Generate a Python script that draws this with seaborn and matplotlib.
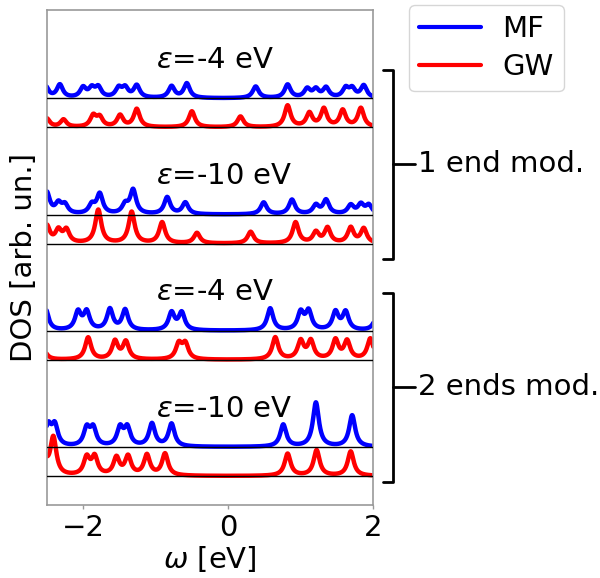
import numpy as np
import matplotlib
matplotlib.use("Agg")
import matplotlib.pyplot as plt
import seaborn as sns

# peak positions (eV) and peak heights (arb. units) read off the reference
# panels from top to bottom: 1 end eps=-4, 1 end eps=-10, 2 ends eps=-4, 2 ends eps=-10
mf_pos_1e4 = [-2.52, -2.32, -2.00, -1.88, -1.79, -1.51, -1.42, -1.26, -0.78, -0.57,
              0.38, 0.82, 1.09, 1.21, 1.35, 1.62, 1.71, 1.87]
mf_h_1e4 = [0.42, 0.45, 0.34, 0.3, 0.34, 0.32, 0.32, 0.42, 0.4, 0.5,
            0.4, 0.46, 0.3, 0.28, 0.34, 0.32, 0.3, 0.42]
gw_pos_1e4 = [-2.50, -2.27, -1.86, -1.77, -1.49, -1.26, -0.50, 0.17, 0.82, 1.12, 1.32, 1.58, 1.83]
gw_h_1e4 = [0.3, 0.26, 0.38, 0.32, 0.4, 0.62, 0.55, 0.37, 0.74, 0.47, 0.62, 0.57, 0.65]

mf_pos_1e10 = [-2.50, -2.34, -2.25, -1.88, -1.77, -1.42, -1.31, -0.84, -0.59, 0.49,
               0.88, 1.21, 1.35, 1.69, 1.83, 1.94]
mf_h_1e10 = [0.75, 0.34, 0.3, 0.3, 0.68, 0.3, 0.82, 0.58, 0.4, 0.41,
             0.5, 0.3, 0.48, 0.3, 0.32, 0.3]
gw_pos_1e10 = [-2.50, -2.34, -2.23, -1.79, -1.33, -0.91, -0.43, 0.31, 0.93, 1.21, 1.37, 1.69, 1.87]
gw_h_1e10 = [0.6, 0.42, 0.44, 1.15, 1.08, 0.72, 0.36, 0.4, 0.72, 0.37, 0.52, 0.53, 0.5]

mf_pos_2e4 = [-2.52, -2.07, -1.95, -1.63, -1.42, -0.78, -0.64, 0.58, 1.00, 1.11, 1.48, 1.62, 2.05]
mf_h_2e4 = [0.78, 0.62, 0.62, 0.72, 0.7, 0.6, 0.6, 0.76, 0.6, 0.64, 0.62, 0.62, 0.5]
gw_pos_2e4 = [-2.55, -1.93, -1.56, -1.41, -0.68, -0.59, 0.65, 1.00, 1.14, 1.48, 1.64, 1.96]
gw_h_2e4 = [0.4, 0.76, 0.62, 0.6, 0.52, 0.52, 0.76, 0.62, 0.62, 0.66, 0.62, 0.72]

mf_pos_2e10 = [-2.48, -2.39, -1.95, -1.86, -1.49, -1.39, -1.05, -0.78, 0.76, 1.21, 1.71]
mf_h_2e10 = [0.7, 0.7, 0.6, 0.6, 0.62, 0.62, 0.78, 0.78, 0.76, 1.52, 1.08]
gw_pos_2e10 = [-2.52, -2.41, -1.95, -1.84, -1.54, -1.38, -1.12, -0.87, 0.82, 1.22, 1.69]
gw_h_2e10 = [0.42, 1.3, 0.6, 0.62, 0.6, 0.64, 0.7, 0.75, 0.76, 0.88, 0.84]

eps_labels = [r"$\varepsilon$=-4 eV", r"$\varepsilon$=-10 eV", r"$\varepsilon$=-4 eV", r"$\varepsilon$=-10 eV"]
offsets = [12, 8, 4, 0]   # GW baseline of each panel, MF sits one unit higher
broadening = 0.05         # Lorentzian half width (eV)

panels = [
    (mf_pos_1e4, mf_h_1e4, gw_pos_1e4, gw_h_1e4),
    (mf_pos_1e10, mf_h_1e10, gw_pos_1e10, gw_h_1e10),
    (mf_pos_2e4, mf_h_2e4, gw_pos_2e4, gw_h_2e4),
    (mf_pos_2e10, mf_h_2e10, gw_pos_2e10, gw_h_2e10),
]


def dos(w, pos, h):
    out = np.zeros_like(w)
    for p, a in zip(pos, h):
        out += a / (1 + ((w - p) / broadening) ** 2)
    return out


omega = np.linspace(-2.6, 2.1, 3000)

sns.set_style("white")
plt.rcParams["font.family"] = ["DejaVu Sans"]
plt.rcParams["text.color"] = "black"
plt.rcParams["axes.labelcolor"] = "black"
fs = 21

fig = plt.figure(figsize=(6.0, 5.78), dpi=100)
ax = fig.add_axes([0.078, 0.126, 0.544, 0.857])

for i, (mp, mh, gp, gh) in enumerate(panels):
    off = offsets[i]
    sns.lineplot(x=omega, y=dos(omega, mp, mh) + off + 1, color="blue", lw=3.2,
                 label="MF" if i == 0 else None, ax=ax)
    sns.lineplot(x=omega, y=dos(omega, gp, gh) + off, color="red", lw=3.2,
                 label="GW" if i == 0 else None, ax=ax)
    ax.axhline(off + 1, color="black", lw=1.0, zorder=5)
    ax.axhline(off, color="black", lw=1.0, zorder=5)
    ax.text(-1.0, off + 2.05, eps_labels[i], fontsize=fs, ha="left", va="baseline", color="black")

ax.set_xlim(-2.5, 2.0)
ax.set_ylim(-1.0, 16.05)
ax.set_xticks([-2, 0, 2])
ax.set_yticks([])
ax.tick_params(axis="x", labelsize=fs, colors="0.6", labelcolor="black", length=3, width=1, direction="out", bottom=True)
for s in ax.spines.values():
    s.set_color("0.6")
    s.set_linewidth(1.2)
ax.set_xlabel(r"$\omega$ [eV]", fontsize=fs, labelpad=1)
ax.set_ylabel("DOS [arb. un.]", fontsize=fs, labelpad=6)

leg = ax.legend(loc="upper left", bbox_to_anchor=(1.11, 1.01), borderaxespad=0,
                fontsize=fs, handlelength=2.1, handletextpad=0.75, borderpad=0.35, labelspacing=0.35)
for t in leg.get_texts():
    t.set_color("black")
for line in leg.get_lines():
    line.set_linewidth(3)

# brackets grouping the panels
tr = ax.transAxes
for top, bot, txt in [(0.879, 0.497, "1 end mod."), (0.429, 0.047, "2 ends mod.")]:
    mid = (top + bot) / 2
    ax.plot([1.031, 1.061, 1.061, 1.031], [top, top, bot, bot], color="black", lw=2,
            transform=tr, clip_on=False)
    ax.plot([1.061, 1.129], [mid, mid], color="black", lw=2, transform=tr, clip_on=False)
    ax.text(1.136, mid, txt, fontsize=fs, ha="left", va="center", transform=tr, color="black")

fig.savefig("out.png", dpi=100)
